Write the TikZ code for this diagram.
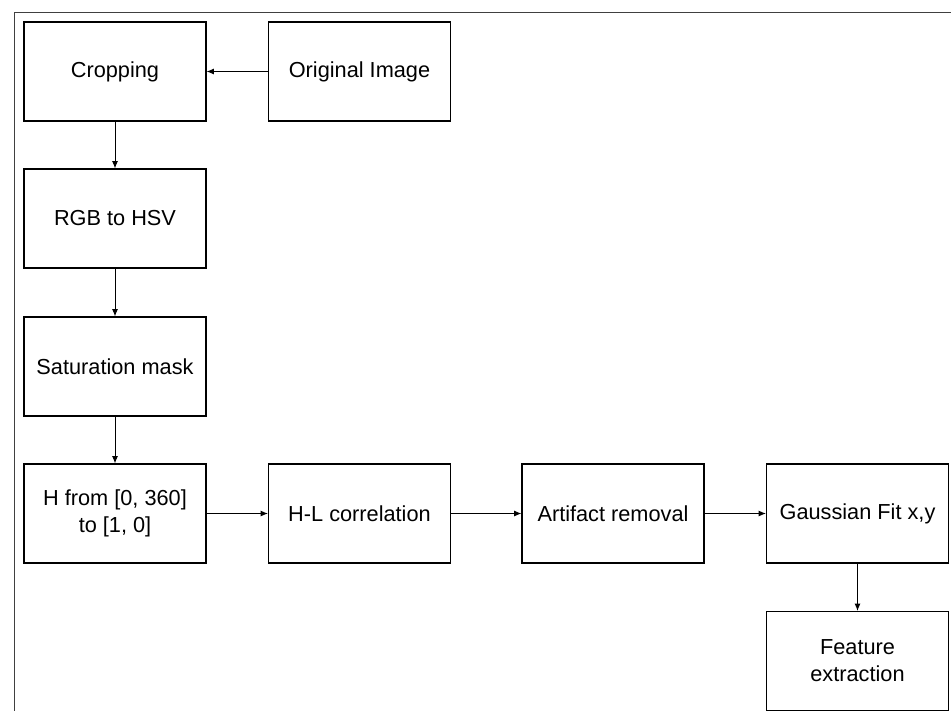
\documentclass[tikz,border=0pt]{standalone}
\usepackage{fontspec}
\setmainfont{Liberation Sans}
\usetikzlibrary{arrows.meta}

\tikzset{
  stepbox/.style={draw=black, line width=0.8pt, minimum width=136.5pt, minimum height=74.25pt,
    align=center, inner sep=2pt, font=\fontsize{16.3}{20.3}\selectfont},
  flow/.style={line width=0.75pt, -{Latex[length=5.5pt,width=4.5pt]}},
  frame/.style={draw=black!75, line width=1pt}
}

\begin{document}
\begin{tikzpicture}[x=0.75pt, y=-0.75pt]
        \useasboundingbox (0,0) rectangle (951,711);

        % outer frame (cut by the page edge)
        \draw[frame] (951,12.5) -- (14.5,12.5) -- (14.5,711);

        % first column
        \node[stepbox] (crop) at (115,71.5) {Cropping};
        \node[stepbox] (orig) at (359.5,71.5) {Original Image};
        \node[stepbox] (hsv) at (115,218.5) {RGB to HSV};
        \node[stepbox] (sat) at (115,366.5) {Saturation mask};

        % bottom row
        \node[stepbox] (hue) at (115,513.5) {H from [0, 360]\\to [1, 0]};
        \node[stepbox] (corr) at (359.5,513.5) {H-L correlation};
        \node[stepbox] (artf) at (613,513.5) {Artifact removal};
        \node[stepbox] (gauss) at (857.5,513.5) {Gaussian Fit x,y};
        \node[stepbox] (feat) at (857.5,661) {Feature\\extraction};

        % connectors
        \draw[flow] (orig) -- (crop);
        \draw[flow] (crop) -- (hsv);
        \draw[flow] (hsv) -- (sat);
        \draw[flow] (sat) -- (hue);
        \draw[flow] (hue) -- (corr);
        \draw[flow] (corr) -- (artf);
        \draw[flow] (artf) -- (gauss);
        \draw[flow] (gauss) -- (feat);
    \end{tikzpicture}
\end{document}
